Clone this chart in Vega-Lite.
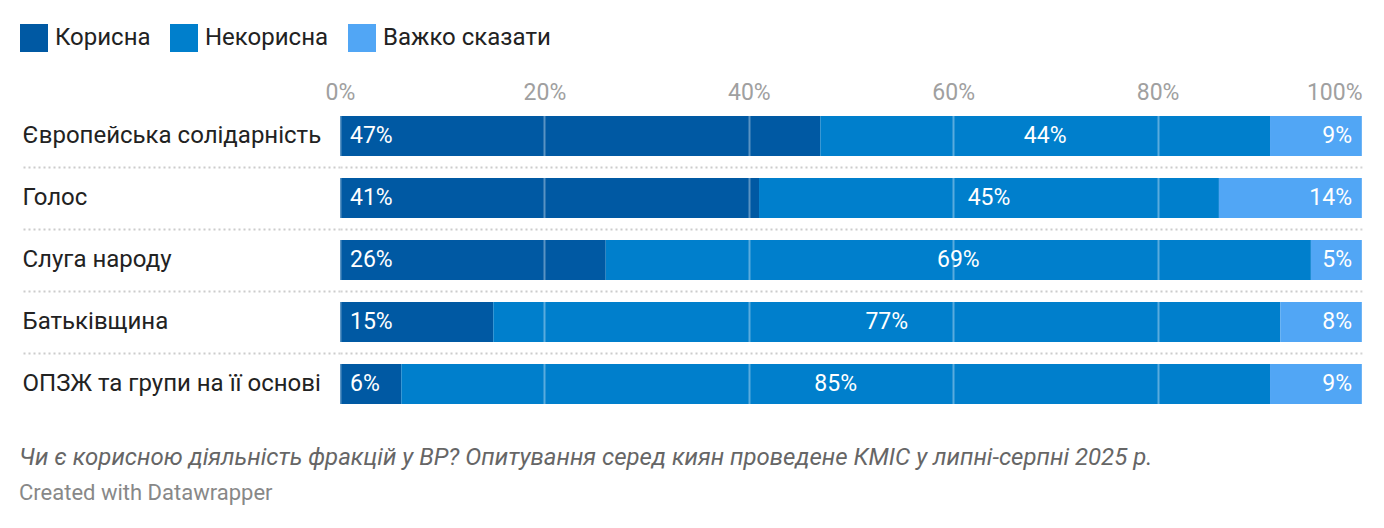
{
  "$schema": "https://vega.github.io/schema/vega-lite/v6.json",
  "autosize": "none",
  "width": 1022,
  "height": 310,
  "padding": {"left": 340, "top": 105, "right": 22, "bottom": 113},
  "background": "white",
  "config": {
    "font": "Roboto",
    "view": {"stroke": null}
  },
  "title": {
    "text": "Чи є корисною діяльність фракцій у ВР? Опитування серед киян проведене КМІС у липні-серпні 2025 р.",
    "subtitle": "Created with Datawrapper",
    "orient": "bottom",
    "anchor": "start",
    "dx": 0,
    "offset": 31,
    "font": "Roboto",
    "fontSize": 24,
    "fontStyle": "italic",
    "fontWeight": "normal",
    "color": "#666666",
    "subtitleFont": "Roboto",
    "subtitleFontSize": 22,
    "subtitleColor": "#888888",
    "subtitlePadding": 13
  },
  "data": {
    "values": [
      {"party": "Європейська солідарність", "answer": "Корисна", "value": 47},
      {"party": "Європейська солідарність", "answer": "Некорисна", "value": 44},
      {"party": "Європейська солідарність", "answer": "Важко сказати", "value": 9},
      {"party": "Голос", "answer": "Корисна", "value": 41},
      {"party": "Голос", "answer": "Некорисна", "value": 45},
      {"party": "Голос", "answer": "Важко сказати", "value": 14},
      {"party": "Слуга народу", "answer": "Корисна", "value": 26},
      {"party": "Слуга народу", "answer": "Некорисна", "value": 69},
      {"party": "Слуга народу", "answer": "Важко сказати", "value": 5},
      {"party": "Батьківщина", "answer": "Корисна", "value": 15},
      {"party": "Батьківщина", "answer": "Некорисна", "value": 77},
      {"party": "Батьківщина", "answer": "Важко сказати", "value": 8},
      {"party": "ОПЗЖ та групи на її основі", "answer": "Корисна", "value": 6},
      {"party": "ОПЗЖ та групи на її основі", "answer": "Некорисна", "value": 85},
      {"party": "ОПЗЖ та групи на її основі", "answer": "Важко сказати", "value": 9}
    ]
  },
  "transform": [
    {"calculate": "indexof(['Корисна', 'Некорисна', 'Важко сказати'], datum.answer)", "as": "order"},
    {"stack": "value", "groupby": ["party"], "sort": [{"field": "order"}], "as": ["x0", "x1"]},
    {"calculate": "(datum.x0 + datum.x1) / 2", "as": "xmid"},
    {"calculate": "datum.value + '%'", "as": "label"}
  ],
  "encoding": {
    "y": {
      "field": "party",
      "type": "nominal",
      "sort": null,
      "scale": {"paddingInner": 0, "paddingOuter": 0},
      "axis": {
        "title": null,
        "domain": false,
        "bandPosition": 0,
        "labelAlign": "left",
        "labelBaseline": "middle",
        "labelPadding": -2,
        "labelFont": "Roboto",
        "labelFontSize": 24,
        "labelColor": "#222222",
        "labelLimit": 400,
        "ticks": true,
        "tickSize": 320,
        "tickColor": "#cccccc",
        "tickWidth": 2,
        "tickDash": [2, 3],
        "tickOpacity": {"condition": {"test": "datum.value === 'Європейська солідарність'", "value": 0}, "value": 1},
        "grid": true,
        "gridColor": "#cccccc",
        "gridWidth": 2,
        "gridDash": [2, 3],
        "gridOpacity": {"condition": {"test": "datum.value === 'Європейська солідарність'", "value": 0}, "value": 1}
      }
    }
  },
  "layer": [
    {
      "mark": {"type": "bar", "height": {"band": 0.645}},
      "encoding": {
        "x": {
          "field": "x0",
          "type": "quantitative",
          "scale": {"domain": [0, 100], "nice": false},
          "axis": {
            "orient": "top",
            "title": null,
            "values": [0, 20, 40, 60, 80, 100],
            "labelExpr": "datum.value + '%'",
            "labelAlign": {"condition": {"test": "datum.value === 100", "value": "right"}, "value": "center"},
            "labelFont": "Roboto",
            "labelFontSize": 23,
            "labelColor": "#a0a0a0",
            "labelPadding": 1,
            "domain": false,
            "ticks": false,
            "grid": true,
            "gridColor": "#ffffff",
            "gridOpacity": 0.35,
            "gridWidth": 2,
            "zindex": 1
          }
        },
        "x2": {"field": "x1"},
        "color": {
          "field": "answer",
          "type": "nominal",
          "scale": {
            "domain": ["Корисна", "Некорисна", "Важко сказати"],
            "range": ["#0059a3", "#007fcc", "#51a6f5"]
          },
          "legend": {
            "title": null,
            "orient": "none",
            "direction": "horizontal",
            "legendX": -320,
            "legendY": -81,
            "symbolType": "square",
            "symbolSize": 784,
            "symbolStrokeWidth": 0,
            "symbolOpacity": 1,
            "labelFont": "Roboto",
            "labelFontSize": 24,
            "labelColor": "#222222",
            "labelOffset": 7,
            "labelLimit": 400,
            "columnPadding": 19
          }
        }
      }
    },
    {
      "transform": [{"filter": "datum.answer === 'Корисна'"}],
      "mark": {"type": "text", "align": "left", "baseline": "middle", "dx": 10, "font": "Roboto", "fontSize": 23, "color": "white"},
      "encoding": {
        "x": {"field": "x0", "type": "quantitative"},
        "text": {"field": "label"}
      }
    },
    {
      "transform": [{"filter": "datum.answer === 'Некорисна'"}],
      "mark": {"type": "text", "align": "center", "baseline": "middle", "font": "Roboto", "fontSize": 23, "color": "white"},
      "encoding": {
        "x": {"field": "xmid", "type": "quantitative"},
        "text": {"field": "label"}
      }
    },
    {
      "transform": [{"filter": "datum.answer === 'Важко сказати'"}],
      "mark": {"type": "text", "align": "right", "baseline": "middle", "dx": -10, "font": "Roboto", "fontSize": 23, "color": "white"},
      "encoding": {
        "x": {"field": "x1", "type": "quantitative"},
        "text": {"field": "label"}
      }
    }
  ]
}
